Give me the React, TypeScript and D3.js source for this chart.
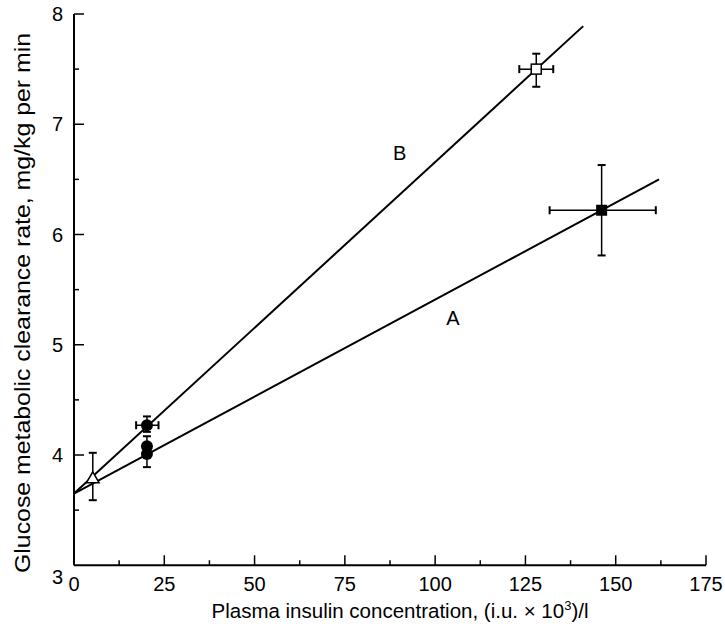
import React from "react";
import * as d3 from "d3";

// ---- data ----
const xTicks = [0, 25, 50, 75, 100, 125, 150, 175];
const xMinorTicks = [12.5, 37.5, 62.5, 87.5, 112.5, 137.5, 162.5];
const yTicks = [3, 4, 5, 6, 7, 8];
const yMinorTicks = [3.5, 4.5, 5.5, 6.5, 7.5];

type Pt = {
  shape: string;
  x: number;
  y: number;
  xLo?: number;
  xHi?: number;
  yLo?: number;
  yHi?: number;
};

const triangle: Pt[] = [{ shape: "triangleOpen", x: 5.2, y: 3.79, yLo: 3.59, yHi: 4.02 }];
const circles: Pt[] = [
  { shape: "circle", x: 20.2, y: 4.27, xLo: 17.2, xHi: 23.4, yLo: 4.21, yHi: 4.35 },
  { shape: "circle", x: 20.2, y: 4.08, yLo: 4.02, yHi: 4.17 },
  { shape: "circle", x: 20.2, y: 4.01, yLo: 3.89, yHi: 4.08 },
];
const squares: Pt[] = [
  { shape: "squareOpen", x: 128.0, y: 7.5, xLo: 123.3, xHi: 132.7, yLo: 7.34, yHi: 7.64 },
  { shape: "squareFilled", x: 146.1, y: 6.22, xLo: 131.7, xHi: 161.1, yLo: 5.81, yHi: 6.63 },
];

const lineA = [
  { x: 0, y: 3.65 },
  { x: 162, y: 6.5 },
];
const lineB = [
  { x: 0, y: 3.65 },
  { x: 141, y: 7.89 },
];
const lineLabels = [
  { text: "A", x: 104.9, y: 5.24 },
  { text: "B", x: 90.2, y: 6.74 },
];

const xTitle = "Plasma insulin concentration, (i.u. \u00d7 10";
const yTitle = "Glucose metabolic clearance rate, mg/kg per min";

export default function App() {
  const W = 725;
  const H = 626;
  const x = d3.scaleLinear().domain([0, 175]).range([74, 706]);
  const y = d3.scaleLinear().domain([4, 8]).range([455, 14]);
  const axisY = y(3);
  const x0 = x(0);
  const font = "'Liberation Sans', Arial, Helvetica, sans-serif";
  const line = d3
    .line<{ x: number; y: number }>()
    .x((d) => x(d.x))
    .y((d) => y(d.y));

  const allPts = [...triangle, ...circles, ...squares];
  const cap = 4;

  const marker = (p: Pt, i: number) => {
    const cx = x(p.x);
    const cy = y(p.y);
    if (p.shape === "circle")
      return <circle key={"m" + i} cx={cx} cy={cy} r={6} fill="#000" />;
    if (p.shape === "squareFilled")
      return <rect key={"m" + i} x={cx - 5.5} y={cy - 5.5} width={11} height={11} fill="#000" />;
    if (p.shape === "squareOpen")
      return (
        <rect key={"m" + i} x={cx - 5} y={cy - 5} width={10} height={10} fill="#fff" stroke="#000" strokeWidth={1.5} />
      );
    const tri = d3.symbol(d3.symbolTriangle, 70)();
    return (
      <path key={"m" + i} d={tri || ""} transform={`translate(${cx},${cy + 1})`} fill="#fff" stroke="#000" strokeWidth={1.5} />
    );
  };

  return (
    <svg width={W} height={H} style={{ position: "absolute", left: 0, top: 0, background: "#fff" }}>
      <rect width={W} height={H} fill="#fff" />
      {/* axes */}
      <line x1={x0} x2={x0} y1={y(8)} y2={axisY} stroke="#000" strokeWidth={2} />
      <line x1={x0} x2={x(175)} y1={axisY} y2={axisY} stroke="#000" strokeWidth={2} />
      {yTicks.map((t) => (
        <g key={"yt" + t}>
          {t > 3 && <line x1={x0} x2={x0 + 10} y1={y(t)} y2={y(t)} stroke="#000" strokeWidth={1.5} />}
          <text
            x={x0 - 11}
            y={t === 3 ? y(t) + 12 : y(t)}
            dy="0.36em"
            textAnchor="end"
            fontFamily={font}
            fontSize={20}
          >
            {t}
          </text>
        </g>
      ))}
      {yMinorTicks.map((t) => (
        <line key={"ym" + t} x1={x0} x2={x0 + 5} y1={y(t)} y2={y(t)} stroke="#000" strokeWidth={1.5} />
      ))}
      {xTicks.map((t) => (
        <g key={"xt" + t}>
          <line x1={x(t)} x2={x(t)} y1={axisY} y2={axisY - 10} stroke="#000" strokeWidth={1.5} />
          <text x={x(t)} y={axisY + 26} textAnchor="middle" fontFamily={font} fontSize={20}>
            {t}
          </text>
        </g>
      ))}
      {xMinorTicks.map((t) => (
        <line key={"xm" + t} x1={x(t)} x2={x(t)} y1={axisY} y2={axisY - 5} stroke="#000" strokeWidth={1.5} />
      ))}
      {/* titles */}
      <text x={400} y={618} textAnchor="middle" fontFamily={font} fontSize={20.5}>
        {xTitle}
        <tspan dy={-8} fontSize={13}>3</tspan>
        <tspan dy={8}>)/l</tspan>
      </text>
      <text
        transform={`translate(30,303) rotate(-90)`}
        textAnchor="middle"
        fontFamily={font}
        fontSize={21.5}
        textLength={540}
        lengthAdjust="spacingAndGlyphs"
      >
        {yTitle}
      </text>
      {/* regression lines */}
      <path d={line(lineA) || ""} fill="none" stroke="#000" strokeWidth={2} />
      <path d={line(lineB) || ""} fill="none" stroke="#000" strokeWidth={2} />
      {lineLabels.map((l) => (
        <text key={l.text} x={x(l.x)} y={y(l.y)} dy="0.36em" textAnchor="middle" fontFamily={font} fontSize={20}>
          {l.text}
        </text>
      ))}
      {/* error bars */}
      {allPts.map((p, i) => (
        <g key={"e" + i} stroke="#000" strokeWidth={1.5}>
          {p.yLo !== undefined && p.yHi !== undefined && (
            <>
              <line x1={x(p.x)} x2={x(p.x)} y1={y(p.yLo)} y2={y(p.yHi)} />
              <line x1={x(p.x) - cap} x2={x(p.x) + cap} y1={y(p.yLo)} y2={y(p.yLo)} strokeWidth={2} />
              <line x1={x(p.x) - cap} x2={x(p.x) + cap} y1={y(p.yHi)} y2={y(p.yHi)} strokeWidth={2} />
            </>
          )}
          {p.xLo !== undefined && p.xHi !== undefined && (
            <>
              <line x1={x(p.xLo)} x2={x(p.xHi)} y1={y(p.y)} y2={y(p.y)} />
              <line x1={x(p.xLo)} x2={x(p.xLo)} y1={y(p.y) - cap} y2={y(p.y) + cap} strokeWidth={2} />
              <line x1={x(p.xHi)} x2={x(p.xHi)} y1={y(p.y) - cap} y2={y(p.y) + cap} strokeWidth={2} />
            </>
          )}
        </g>
      ))}
      {allPts.map((p, i) => marker(p, i))}
    </svg>
  );
}
